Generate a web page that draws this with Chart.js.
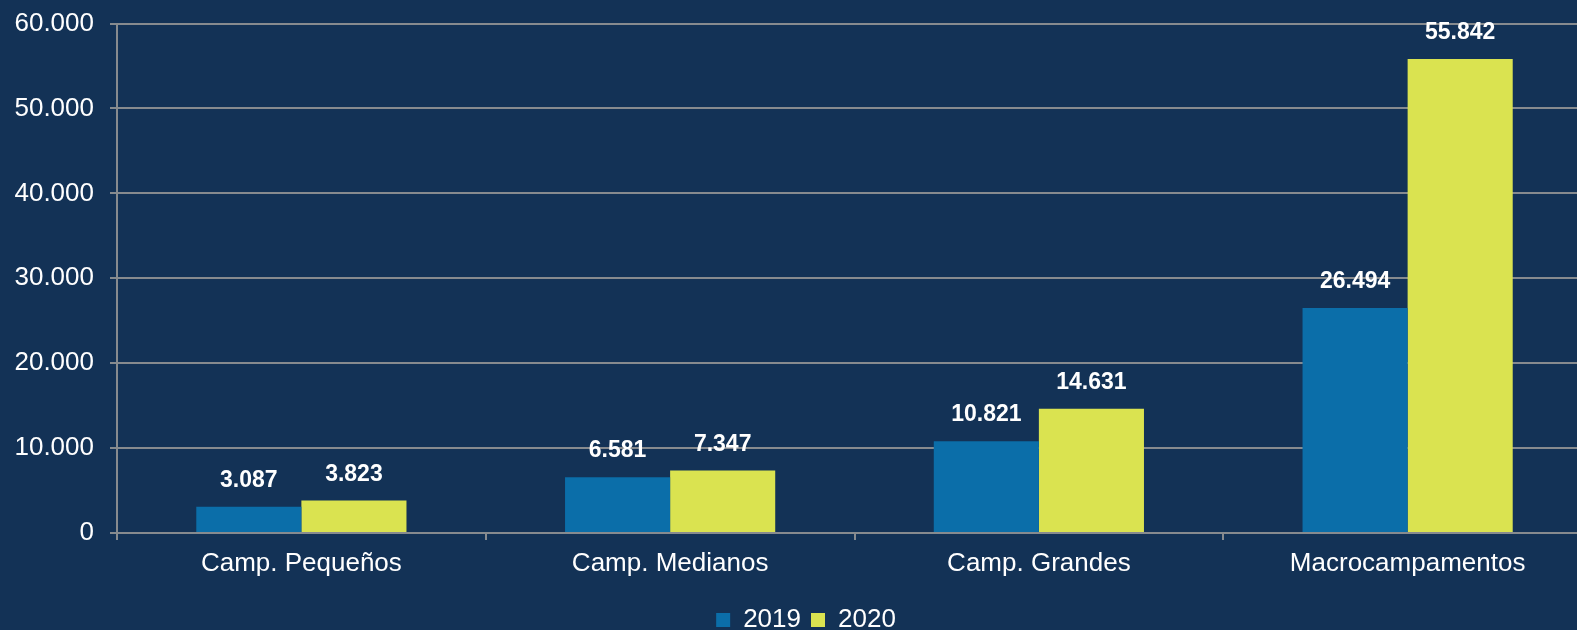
<!DOCTYPE html>
<html>
<head>
<meta charset="utf-8">
<script src="https://cdn.jsdelivr.net/npm/chart.js@4/dist/chart.umd.min.js"></script>
<style>
    html, body { margin: 0; padding: 0; background: #133256; overflow: hidden; }
    #wrap { width: 1577px; height: 630px; overflow: hidden; }
    #campChart { display: block; margin-top: -8px; }
</style>
</head>
<body>
<div id="wrap">
    <canvas id="campChart" width="1612" height="651"></canvas>
</div>
<script>
const categories = ["Camp. Pequeños", "Camp. Medianos", "Camp. Grandes", "Macrocampamentos"];
const values2019 = [3087, 6581, 10821, 26494];
const values2020 = [3823, 7347, 14631, 55842];
const seriesNames = ["2019", "2020"];

const gridColor = "#878b8f";
const fontFamily = "'Liberation Sans', Arial, sans-serif";

// 60000 -> "60.000"
function formatNumber(value) {
    return String(Math.round(value)).replace(/\B(?=(\d{3})+(?!\d))/g, ".");
}

// draws the bold value above each bar
const barValueLabels = {
    id: "barValueLabels",
    afterDatasetsDraw(chart) {
        const ctx = chart.ctx;
        ctx.save();
        ctx.fillStyle = "#ffffff";
        ctx.font = "bold 23px " + fontFamily;
        ctx.textAlign = "center";
        ctx.textBaseline = "middle";
        chart.data.datasets.forEach((dataset, i) => {
            chart.getDatasetMeta(i).data.forEach((bar, j) => {
                ctx.fillText(formatNumber(dataset.data[j]), bar.x, bar.y - 26);
            });
        });
        ctx.restore();
    }
};

new Chart(document.getElementById("campChart"), {
    type: "bar",
    data: {
        labels: categories,
        datasets: [
            {
                label: seriesNames[0],
                data: values2019,
                backgroundColor: "#0b6ea9",
                barPercentage: 1,
                categoryPercentage: 0.57
            },
            {
                label: seriesNames[1],
                data: values2020,
                backgroundColor: "#dae350",
                barPercentage: 1,
                categoryPercentage: 0.57
            }
        ]
    },
    options: {
        responsive: false,
        animation: false,
        layout: { padding: 0 },
        plugins: {
            tooltip: { enabled: false },
            legend: {
                position: "bottom",
                labels: {
                    color: "#ffffff",
                    font: { family: fontFamily, size: 26 },
                    boxWidth: 14,
                    boxHeight: 14,
                    padding: 10
                }
            }
        },
        scales: {
            x: {
                afterFit(scale) { scale.height = 64; },
                grid: {
                    display: true,
                    drawOnChartArea: false,
                    drawTicks: true,
                    tickLength: 7,
                    offset: true,
                    color: gridColor,
                    lineWidth: 2
                },
                border: { color: gridColor, width: 2 },
                ticks: {
                    color: "#ffffff",
                    padding: 8,
                    font: { family: fontFamily, size: 26 },
                    maxRotation: 0
                }
            },
            y: {
                min: 0,
                max: 60000,
                afterFit(scale) { scale.width = 117; },
                grid: {
                    color: gridColor,
                    lineWidth: 2,
                    tickLength: 7
                },
                border: { color: gridColor, width: 2 },
                ticks: {
                    stepSize: 10000,
                    color: "#ffffff",
                    padding: 16,
                    font: { family: fontFamily, size: 26 },
                    callback: (value) => formatNumber(value)
                }
            },
            // empty spacer on the right, keeps the plot edge off-screen
            spacer: {
                type: "linear",
                position: "right",
                min: 0,
                max: 60000,
                afterFit(scale) { scale.width = 20; },
                grid: { display: false },
                border: { display: false },
                ticks: { display: false }
            }
        }
    },
    plugins: [barValueLabels]
});
</script>
</body>
</html>
